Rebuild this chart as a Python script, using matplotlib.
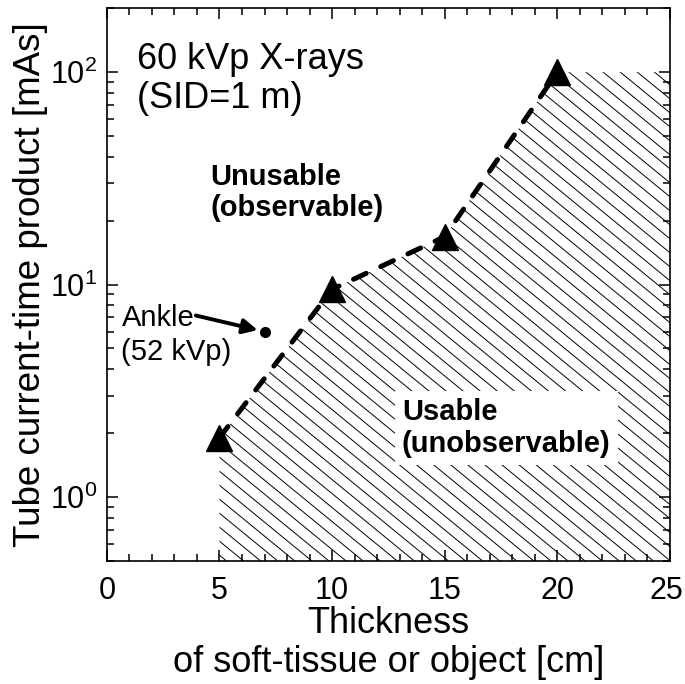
import numpy as np
import matplotlib
matplotlib.use("Agg")
import matplotlib.pyplot as plt
import matplotlib.transforms as mtransforms
from matplotlib.collections import LineCollection
from matplotlib.ticker import MultipleLocator, LogLocator, NullFormatter

plt.rcParams['font.family'] = ['Liberation Sans', 'DejaVu Sans']
plt.rcParams['mathtext.fontset'] = 'custom'
plt.rcParams['mathtext.rm'] = 'Liberation Sans'

# limit curve (thickness in cm, mAs)
thickness = [5, 10, 15, 20]
mas = [1.9, 9.5, 16.8, 100]

# usable region extends to the right edge at the last value
region_x = [5, 10, 15, 20, 25]
region_y = [1.9, 9.5, 16.8, 100, 100]

ankle_x = [7]
ankle_y = [6.0]

fig = plt.figure(figsize=(6.85, 6.84), dpi=100)
ax = fig.add_axes([0.156, 0.180, 0.822, 0.808])

ax.set_yscale('log')
ax.set_xlim(0, 25)
ax.set_ylim(0.5, 200)

region = ax.fill_between(region_x, region_y, 0.5, facecolor='none',
                         edgecolor='none', linewidth=0, zorder=1)

# hatch lines (about 39 deg, ~14 px apart vertically), clipped to the region
w_px, h_px = 563.0, 553.0
slope = 0.82
step = 14.0
segs = []
for c in np.arange(-slope * w_px, h_px + step, step):
    x0, x1 = 0.0, w_px
    y0, y1 = c + slope * w_px, c
    segs.append([(x0 / w_px, y0 / h_px), (x1 / w_px, y1 / h_px)])
hatch = LineCollection(segs, colors='black', linewidths=0.7,
                       transform=ax.transAxes, zorder=1)
ax.add_collection(hatch)
hatch.set_clip_path(region.get_paths()[0], ax.transData)

ax.plot(thickness, mas, color='black', lw=3.6, dashes=(2.8, 3.2),
        dash_capstyle='round', zorder=3)
ax.plot(thickness, mas, linestyle='none', marker='^', ms=19, color='black', zorder=4)

ax.plot(ankle_x, ankle_y, 'o', color='black', ms=7, zorder=4)
ax.annotate('', xy=(ankle_x[0], ankle_y[0]), xytext=(3.95, 7.15),
            arrowprops=dict(arrowstyle='-|>', lw=2.8, color='black',
                            shrinkA=0, shrinkB=5, mutation_scale=22))
ax.text(0.65, 5.79, 'Ankle\n(52 kVp)', fontsize=21, ha='left', va='center',
        linespacing=1.25)

ax.text(0.053, 0.872, '60 kVp X-rays\n(SID=1 m)', transform=ax.transAxes,
        fontsize=26, ha='left', va='center', linespacing=1.15)
ax.text(0.184, 0.666, 'Unusable\n(observable)', transform=ax.transAxes,
        fontsize=21, fontweight='bold', ha='left', va='center', linespacing=1.14)
ax.text(0.524, 0.2396, 'Usable\n(unobservable)', transform=ax.transAxes,
        fontsize=21, fontweight='bold', ha='left', va='center', linespacing=1.18,
        bbox=dict(facecolor='white', edgecolor='none', pad=5), zorder=5)

ax.xaxis.set_major_locator(MultipleLocator(5))
ax.xaxis.set_minor_locator(MultipleLocator(1))
ax.yaxis.set_major_locator(LogLocator(base=10))
ax.yaxis.set_minor_locator(LogLocator(base=10, subs=range(2, 10)))
ax.yaxis.set_minor_formatter(NullFormatter())

ax.tick_params(which='both', direction='in', top=True, right=True, width=1.1)
ax.tick_params(which='major', length=8, labelsize=22)
ax.tick_params(which='minor', length=5)
ax.tick_params(axis='x', which='major', pad=11)
ax.tick_params(axis='y', which='major', pad=7)
for s in ax.spines.values():
    s.set_linewidth(1.2)

ax.set_xlabel('Thickness\nof soft-tissue or object [cm]', fontsize=26,
              linespacing=1.15, labelpad=0)
ax.set_ylabel('Tube current-time product [mAs]', fontsize=26.5, labelpad=1)

# nudge the "25" label so it stays inside the figure
fig.canvas.draw()
for lab in ax.get_xticklabels():
    if lab.get_text() == '25':
        lab.set_transform(lab.get_transform() +
                          mtransforms.ScaledTranslation(-0.04, 0, fig.dpi_scale_trans))

fig.savefig('out.png', dpi=100)
